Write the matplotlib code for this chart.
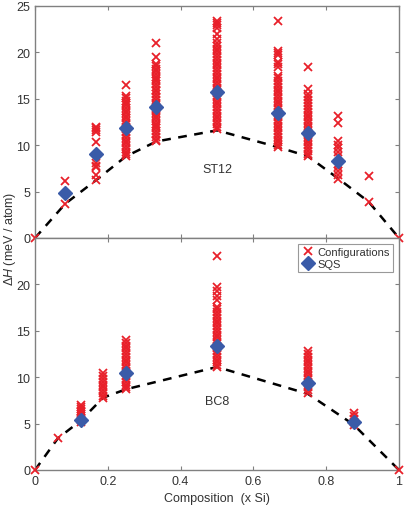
import matplotlib.pyplot as plt
import numpy as np

plt.rcParams['font.family'] = ['Liberation Sans', 'DejaVu Sans']
plt.rcParams['mathtext.fontset'] = 'custom'
plt.rcParams['mathtext.rm'] = 'Liberation Sans'
plt.rcParams['mathtext.it'] = 'Liberation Sans:italic'

red = '#e8202a'
blue = '#3a5ba8'
grey = '#808080'
txt = '#333333'

# ST12 configurations, one list per composition
st12_comp = [0, 1/12, 1/6, 1/4, 1/3, 1/2, 2/3, 3/4, 5/6, 11/12, 1]
st12_conf = [
    [0.0],
    [6.1, 3.7],
    [12.0, 11.8, 11.6, 11.4, 10.3, 8.1, 7.8, 7.6, 6.8, 6.2],
    [16.5, 15.3, 15.1, 14.8, 14.6, 14.3, 14.0, 13.7, 13.5, 13.2, 12.9, 12.6, 12.3, 12.0,
     11.7, 11.4, 11.1, 10.8, 10.5, 10.2, 9.9, 9.6, 9.3, 9.0, 8.8],
    [21.0, 19.5, 18.7, 18.5, 18.2, 18.0, 17.7, 17.4, 17.1, 16.9, 16.6, 16.3, 16.0, 15.8,
     15.5, 15.2, 14.9, 14.6, 14.3, 14.0, 13.8, 13.5, 13.2, 12.9, 12.6, 12.3, 12.1, 11.8,
     11.5, 11.2, 10.9, 10.6, 10.4],
    [23.4, 23.2, 23.0, 22.6, 22.0, 21.4, 21.0, 20.7, 20.4, 20.1, 19.8, 19.5, 19.2, 18.9,
     18.6, 18.3, 18.0, 17.7, 17.4, 17.1, 16.8, 16.5, 16.2, 15.9, 15.6, 15.3, 15.0, 14.7,
     14.4, 14.1, 13.8, 13.5, 13.2, 12.9, 12.6, 12.3, 12.0, 11.7],
    [23.4, 20.1, 19.9, 19.7, 19.0, 18.7, 18.4, 17.5, 17.2, 16.9, 16.6, 16.3, 16.0, 15.7,
     15.4, 15.1, 14.8, 14.5, 14.2, 13.9, 13.6, 13.3, 13.0, 12.7, 12.4, 12.1, 11.8, 11.5,
     11.2, 10.9, 10.6, 10.3, 10.0, 9.8],
    [18.4, 16.1, 15.5, 15.2, 14.9, 14.5, 14.2, 13.9, 13.6, 13.3, 13.0, 12.7, 12.4, 12.1,
     11.8, 11.5, 11.2, 10.9, 10.6, 10.3, 10.0, 9.7, 9.4, 9.1, 8.8],
    [13.1, 12.4, 10.4, 10.0, 9.7, 9.3, 8.8, 8.0, 7.6, 7.2, 6.8, 6.4],
    [6.7, 3.9],
    [0.0],
]
st12_sqs_x = [1/12, 1/6, 1/4, 1/3, 1/2, 2/3, 3/4, 5/6]
st12_sqs_y = [4.8, 9.0, 11.9, 14.1, 15.7, 13.5, 11.3, 8.3]
st12_hull_x = [0, 1/12, 1/6, 1/4, 1/3, 1/2, 2/3, 3/4, 5/6, 11/12, 1]
st12_hull_y = [0, 3.7, 6.2, 8.8, 10.4, 11.6, 9.8, 8.8, 6.4, 3.9, 0]

# BC8 configurations
bc8_comp = [0, 1/16, 1/8, 3/16, 1/4, 1/2, 3/4, 7/8, 1]
bc8_conf = [
    [0.0],
    [3.4],
    [7.0, 6.8, 6.6, 6.4, 6.2, 6.0, 5.8, 5.6, 5.4, 5.2],
    [10.4, 10.1, 9.8, 9.5, 9.2, 8.9, 8.6, 8.3, 8.0, 7.8],
    [14.0, 13.7, 13.4, 13.1, 12.8, 12.5, 12.2, 11.9, 11.6, 11.3, 11.0, 10.7, 10.4, 10.1,
     9.8, 9.5, 9.2, 8.9, 8.7],
    [23.1, 19.7, 19.3, 18.8, 18.3, 17.6, 17.3, 17.0, 16.7, 16.4, 16.1, 15.8, 15.5, 15.2,
     14.9, 14.6, 14.3, 14.0, 13.7, 13.4, 13.1, 12.8, 12.5, 12.2, 11.9, 11.6, 11.3, 11.1],
    [12.8, 12.5, 12.2, 11.9, 11.6, 11.3, 11.0, 10.7, 10.4, 10.1, 9.8, 9.5, 9.2, 8.9, 8.6, 8.3],
    [6.1, 5.8, 5.5, 5.2, 4.9],
    [0.0],
]
bc8_sqs_x = [1/8, 1/4, 1/2, 3/4, 7/8]
bc8_sqs_y = [5.4, 10.5, 13.4, 9.4, 5.2]
bc8_hull_x = [0, 1/16, 1/8, 3/16, 1/4, 1/2, 3/4, 7/8, 1]
bc8_hull_y = [0, 3.4, 5.3, 7.8, 8.7, 11.1, 8.2, 4.9, 0]

fig = plt.figure(figsize=(4.07, 5.06), dpi=100)
ax1 = fig.add_axes([35/407, 1-239/506, 364/407, 232/506])
ax2 = fig.add_axes([35/407, 1-471/506, 364/407, 232/506])


def panel(ax, comp, conf, sx, sy, hx, hy, name):
    ax.plot(hx, hy, color='black', ls=(0, (3.5, 3)), lw=1.8, zorder=2)
    xs = np.concatenate([[c] * len(v) for c, v in zip(comp, conf)])
    ys = np.concatenate(conf)
    ax.plot(xs, ys, 'x', color=red, ms=5.8, mew=1.3, zorder=3, clip_on=False,
            label='Configurations')
    ax.plot(sx, sy, 'D', color=blue, ms=7, mec=blue, zorder=4, label='SQS')
    ax.text(0.5, 7.4, name, ha='center', va='center', fontsize=9, color=txt)
    ax.set_xlim(0, 1)
    ax.set_ylim(0, 25)
    ax.set_xticks(np.arange(0, 1.01, 0.2))
    ax.tick_params(direction='in', length=3, top=True, right=True, labelsize=9,
                   colors=grey, labelcolor=txt, width=0.8)
    for s in ax.spines.values():
        s.set_color(grey)
        s.set_linewidth(1.0)


panel(ax1, st12_comp, st12_conf, st12_sqs_x, st12_sqs_y, st12_hull_x, st12_hull_y, 'ST12')
panel(ax2, bc8_comp, bc8_conf, bc8_sqs_x, bc8_sqs_y, bc8_hull_x, bc8_hull_y, 'BC8')

ax1.set_yticks([0, 5, 10, 15, 20, 25])
ax1.set_xticklabels([])
ax2.set_yticks([0, 5, 10, 15, 20])
ax2.set_xticklabels(['0', '0.2', '0.4', '0.6', '0.8', '1'])
ax2.set_xlabel('Composition  (x Si)', fontsize=9, color=txt, labelpad=4)

leg = ax2.legend(loc='upper right', fontsize=8, frameon=True, fancybox=False,
                 borderpad=0.3, handletextpad=0.3, labelspacing=0.2,
                 handlelength=1.2, borderaxespad=0.5)
leg.get_frame().set_edgecolor(grey)
leg.get_frame().set_linewidth(0.8)
for t in leg.get_texts():
    t.set_color(txt)

fig.text(10/407, 1-239/506, r'$\Delta H$ (meV / atom)', rotation=90, ha='center',
         va='center', fontsize=9, color=txt)

fig.savefig('out.png', dpi=100)
